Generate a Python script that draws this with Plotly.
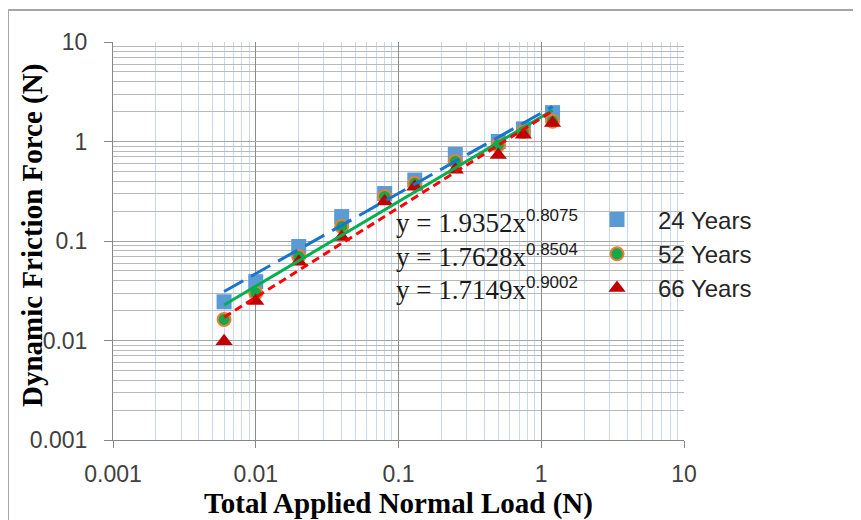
import plotly.graph_objects as go
import numpy as np

# ---- data ----
load_n = [0.006, 0.01, 0.02, 0.04, 0.08, 0.13, 0.25, 0.5, 0.75, 1.2]
friction_24 = [0.0245, 0.039, 0.088, 0.176, 0.30, 0.41, 0.74, 1.0, 1.34, 1.95]
friction_52 = [0.0163, 0.030, 0.070, 0.14, 0.28, 0.38, 0.63, 0.92, 1.26, 1.6]
friction_66 = [0.0098, 0.025, 0.062, 0.11, 0.25, 0.35, 0.52, 0.73, 1.17, 1.53]
series_names = ["24 Years", "52 Years", "66 Years"]
fit_coef = [1.9352, 1.7628, 1.7149]
fit_exp = [0.8075, 0.8504, 0.9002]
tick_vals = [0.001, 0.01, 0.1, 1, 10]
tick_text = ["0.001", "0.01", "0.1", "1", "10"]
minor_vals = [m * 10.0 ** e for e in range(-3, 1) for m in range(2, 10)]

series = [friction_24, friction_52, friction_66]
markers = [
    dict(symbol="square", size=15, color="#5B9BD5"),
    dict(symbol="circle", size=13, color="#14A84A", line=dict(color="#ED7D31", width=2)),
    dict(symbol="triangle-up", size=15, color="#C00000"),
]
trend_styles = [
    dict(color="#1874CD", width=3, dash="22px,9px"),
    dict(color="#00B050", width=3, dash="solid"),
    dict(color="#FF0000", width=3, dash="8px,5px"),
]

fig = go.Figure()
for name, ys, mk in zip(series_names, series, markers):
    fig.add_trace(go.Scatter(x=load_n, y=ys, mode="markers", name=name, marker=mk,
                             legendgroup=name))

x_arr = np.array(load_n)
for a, b, st in zip(fit_coef, fit_exp, trend_styles):
    fig.add_trace(go.Scatter(x=x_arr, y=a * x_arr ** b, mode="lines", line=st,
                             showlegend=False, hoverinfo="skip"))

# page offset of the figure (body margin), and plot box in page pixels
OFF = 8
L, R, T, B = 113, 684, 42, 440
W, H = 853, 512
pw, ph = R - L, B - T


def px(xp):
    return (xp - L) / pw


def py(yp):
    return (B - yp) / ph


tick_font = dict(family="Liberation Sans", size=23, color="#404040")

fig.update_xaxes(
    type="log", range=[-3, 1], tickmode="array", tickvals=tick_vals, ticktext=tick_text,
    ticks="outside", ticklen=7, tickcolor="#868686", showline=True, linecolor="#868686",
    showgrid=True, gridcolor="#8c8c8c", gridwidth=1, zeroline=False, automargin=False,
    minor=dict(tickmode="array", tickvals=minor_vals, showgrid=True, gridcolor="#c6d9f1", ticks=""),
    tickfont=tick_font, ticklabelstandoff=6,
    title=dict(text="<b>Total Applied Normal Load (N)</b>",
               font=dict(family="Liberation Serif", size=29, color="#000000"), standoff=12),
)
fig.update_yaxes(
    type="log", range=[-3, 1], tickmode="array", tickvals=tick_vals, ticktext=tick_text,
    ticks="outside", ticklen=8, tickcolor="#868686", showline=True, linecolor="#868686",
    showgrid=True, gridcolor="#a6a6a6", gridwidth=1, zeroline=False, automargin=False,
    minor=dict(tickmode="array", tickvals=minor_vals, showgrid=True, gridcolor="#b9b9b9", ticks=""),
    tickfont=tick_font, ticklabelstandoff=12,
)

annotations = [
    dict(text="<b>Dynamic Friction Force (N)</b>", x=px(32), y=py(236), xref="paper", yref="paper",
         textangle=-90, showarrow=False, xanchor="center", yanchor="middle",
         font=dict(family="Liberation Serif", size=29, color="#000000")),
]
eq_y = [222, 256, 289]
for a, b, yy in zip(fit_coef, fit_exp, eq_y):
    annotations.append(dict(
        text=f"y = {a:.4f}x<sup><span style=\"font-family:Liberation Sans;font-size:17px\">{b:.4f}</span></sup>",
        x=px(394), y=py(yy), xref="paper", yref="paper", showarrow=False,
        xanchor="left", yanchor="middle",
        font=dict(family="Liberation Serif", size=27, color="#1a1a1a")))

fig.update_layout(
    width=W, height=H,
    margin=dict(l=L - OFF, r=W - (R - OFF), t=T - OFF, b=H - (B - OFF)),
    paper_bgcolor="white", plot_bgcolor="white",
    showlegend=True,
    legend=dict(x=px(576), y=py(197.5), xanchor="left", yanchor="top",
                bgcolor="rgba(0,0,0,0)", borderwidth=0, itemwidth=72, tracegroupgap=0,
                font=dict(family="Liberation Sans", size=24, color="#262626")),
    annotations=annotations,
    shapes=[dict(type="rect", xref="paper", yref="paper",
                 x0=px(8), x1=px(880), y0=py(540), y1=py(10),
                 line=dict(color="#a6a6a6", width=2), fillcolor="rgba(0,0,0,0)", layer="below")],
)

fig.write_html("out.html")
